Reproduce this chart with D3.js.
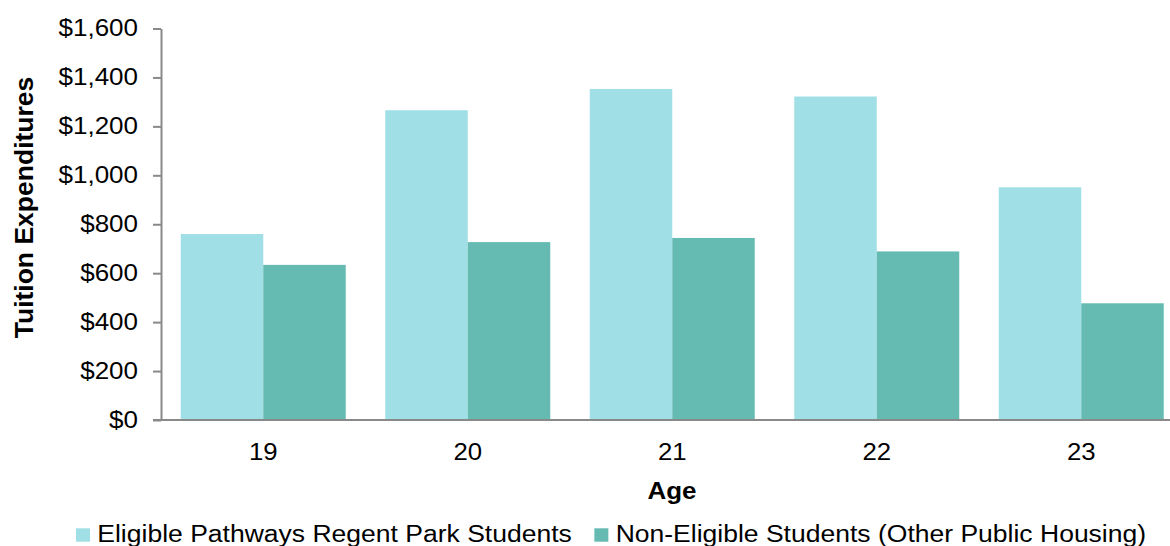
<!DOCTYPE html>
<html>
<head>
<meta charset="utf-8">
<script src="https://cdn.jsdelivr.net/npm/d3@7"></script>
<style>
  html, body { margin: 0; padding: 0; background: #fff; }
  svg { display: block; }
  text { font-family: "Liberation Sans", Arial, sans-serif; fill: #000; }
</style>
</head>
<body>
<svg id="chart" width="1170" height="546"></svg>
<script>
const ages = ["19", "20", "21", "22", "23"];
const seriesNames = ["Eligible Pathways Regent Park Students", "Non-Eligible Students (Other Public Housing)"];
const eligibleValues = [760, 1266, 1353, 1322, 951];
const nonEligibleValues = [634, 727, 744, 689, 477];
const yTicks = [0, 200, 400, 600, 800, 1000, 1200, 1400, 1600];
const colors = ["#A0DFE5", "#65BBB2"];
const axisColor = "#898989";

const svg = d3.select("#chart");
const stretchX = 1.12;

function stretch(sel, f) {
  sel.each(function () {
    const l = this.getComputedTextLength();
    this.setAttribute("textLength", l * f);
    this.setAttribute("lengthAdjust", "spacingAndGlyphs");
  });
}

const x0 = d3.scaleBand().domain(ages).range([161, 1183.5]).paddingInner(0.1932).paddingOuter(0.0966);
const x1 = d3.scaleBand().domain([0, 1]).range([0, x0.bandwidth()]);
const y = d3.scaleLinear().domain([0, 1600]).range([420, 28.5]);

const rows = ages.map((a, i) => ({ age: a, vals: [eligibleValues[i], nonEligibleValues[i]] }));

// bars
const groups = svg.append("g").selectAll("g").data(rows).join("g")
  .attr("transform", d => `translate(${x0(d.age)},0)`);
groups.selectAll("rect").data(d => d.vals.map((v, k) => ({ v, k }))).join("rect")
  .attr("x", d => x1(d.k))
  .attr("width", x1.bandwidth())
  .attr("y", d => y(d.v))
  .attr("height", d => y(0) - y(d.v))
  .attr("fill", d => colors[d.k]);

// y axis
const yAxis = svg.append("g").attr("transform", "translate(161,0)")
  .call(d3.axisLeft(y).tickValues(yTicks).tickSize(8).tickSizeOuter(0).tickPadding(15)
    .tickFormat(d => "$" + d3.format(",")(d)));
yAxis.attr("font-size", 23).attr("font-family", null);
yAxis.selectAll("path, line").attr("stroke", axisColor).attr("stroke-width", 2);
yAxis.selectAll("text").attr("fill", "#000");
stretch(yAxis.selectAll("text"), 1.13);

// x axis
const xAxis = svg.append("g").attr("transform", "translate(0,420)")
  .call(d3.axisBottom(x0).tickSize(0).tickSizeOuter(0).tickPadding(24));
xAxis.attr("font-size", 23).attr("font-family", null);
xAxis.select("path").attr("stroke", axisColor).attr("stroke-width", 2)
  .attr("d", "M153,0H1170");
xAxis.selectAll("text").attr("fill", "#000");
stretch(xAxis.selectAll("text"), stretchX);

// axis titles
svg.append("text")
  .attr("transform", "translate(33,207.5) rotate(-90)")
  .attr("text-anchor", "middle")
  .attr("font-size", 26.5).attr("font-weight", "bold")
  .text("Tuition Expenditures");

const xTitle = svg.append("text")
  .attr("x", 672).attr("y", 499)
  .attr("text-anchor", "middle")
  .attr("font-size", 24).attr("font-weight", "bold")
  .text("Age");
stretch(xTitle, 1.08);

// legend
const legend = svg.append("g");
let lx = 76;
seriesNames.forEach((name, i) => {
  legend.append("rect").attr("x", lx).attr("y", 528.3).attr("width", 14).attr("height", 13.4).attr("fill", colors[i]);
  const t = legend.append("text").attr("x", lx + 21.3).attr("y", 541.7).attr("font-size", 23.5).text(name);
  stretch(t, 1.128);
  const w = +t.attr("textLength");
  lx = lx + 21.3 + w + 22.6;
});
</script>
</body>
</html>
